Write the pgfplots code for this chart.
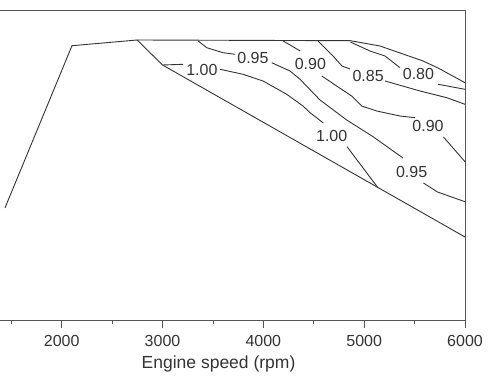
\documentclass[border=0pt]{standalone}
\usepackage{fontspec}
\setmainfont{Liberation Sans}
\usepackage{pgfplots}
\pgfplotsset{compat=1.18}
\definecolor{ink}{HTML}{333333}
\definecolor{frame}{HTML}{555555}
\begin{document}
\begin{tikzpicture}[x=1pt,y=1pt]
\useasboundingbox (0,0) rectangle (500,375);
\begin{axis}[
  at={(0pt,55pt)}, anchor=south west,
  scale only axis, width=465pt, height=309pt,
  xmin=1388, xmax=6000, ymin=0, ymax=309,
  axis line style={draw=none},
  xtick={2000,3000,4000,5000,6000},
  minor xtick={1500,2500,3500,4500,5500},
  ytick=\empty,
  xtick pos=left, tick align=outside,
  major tick length=8pt, minor tick length=4pt,
  every tick/.style={frame, line width=0.8pt},
  /pgf/number format/assume math mode=true,
  /pgf/number format/1000 sep={},
  tick label style={font=\fontsize{16}{19}\selectfont, text=ink},
  xticklabel style={yshift=-4pt},
  xlabel={Engine speed (rpm)},
  xlabel style={font=\fontsize{17.5}{20}\selectfont, text=ink,
    at={(axis description cs:0.47,0)}, anchor=north, yshift=-32pt},
  cl/.style={ink, line width=0.9pt, mark=none, solid},
  clip=false,
]
\draw[frame, line width=1pt] (rel axis cs:0,1) -- (rel axis cs:1,1) -- (rel axis cs:1,0) -- (rel axis cs:0,0);
% full-load boundary
\addplot[cl] coordinates {(1437,112) (2102,274.3) (2748,280) (4863,279.3) (5157,274) (5584,259) (5733,252) (6000,237.3)};
% lower boundary
\addplot[cl] coordinates {(2748,280) (3000,255) (6000,83)};
% 1.00 upper
\addplot[cl] coordinates {(3000,255) (3205,255.7)};
\addplot[cl] coordinates {(3572,250.7) (3798,245.7) (3997,239) (4232,225.7) (4393,214) (4463,207.3) (4595,197)};
\addplot[cl] coordinates {(4830,173.3) (5131,133)};
% 0.95
\addplot[cl] coordinates {(3355,279) (3438,272.3) (3600,267.3) (3719,265.7)};
\addplot[cl] coordinates {(4083,257.3) (4264,249) (4364,240.7) (4562,220) (4827,200) (5088,183.3) (5385,162)};
\addplot[cl] coordinates {(5588,137) (5727,128) (6000,118.3)};
% 0.90
\addplot[cl] coordinates {(4197,279) (4366,269)};
\addplot[cl] coordinates {(4579,244) (4727,234) (4876,224) (4975,214) (5124,209) (5355,204) (5504,202.3)};
\addplot[cl] coordinates {(5786,183) (6000,158.3)};
% 0.85
\addplot[cl] coordinates {(4542,279) (4691,264) (4780,254) (4860,251)};
\addplot[cl] coordinates {(5207,239) (5554,229) (5819,222.3) (6000,215.7)};
% 0.80
\addplot[cl] coordinates {(4863,278) (5058,269) (5207,264) (5355,252.3)};
\addplot[cl] coordinates {(5733,235.7) (6000,230.7)};
% labels
\begin{scope}[every node/.style={font=\fontsize{16}{19}\selectfont, text=ink, inner sep=0pt}]
\node at (axis cs:3390,250) {1.00};
\node at (axis cs:3897,262.3) {0.95};
\node at (axis cs:4466,256.5) {0.90};
\node at (axis cs:5039,244) {0.85};
\node at (axis cs:5538,246) {0.80};
\node at (axis cs:4678,184) {1.00};
\node at (axis cs:5471,148.3) {0.95};
\node at (axis cs:5633,194) {0.90};
\end{scope}
\end{axis}
\end{tikzpicture}
\end{document}
